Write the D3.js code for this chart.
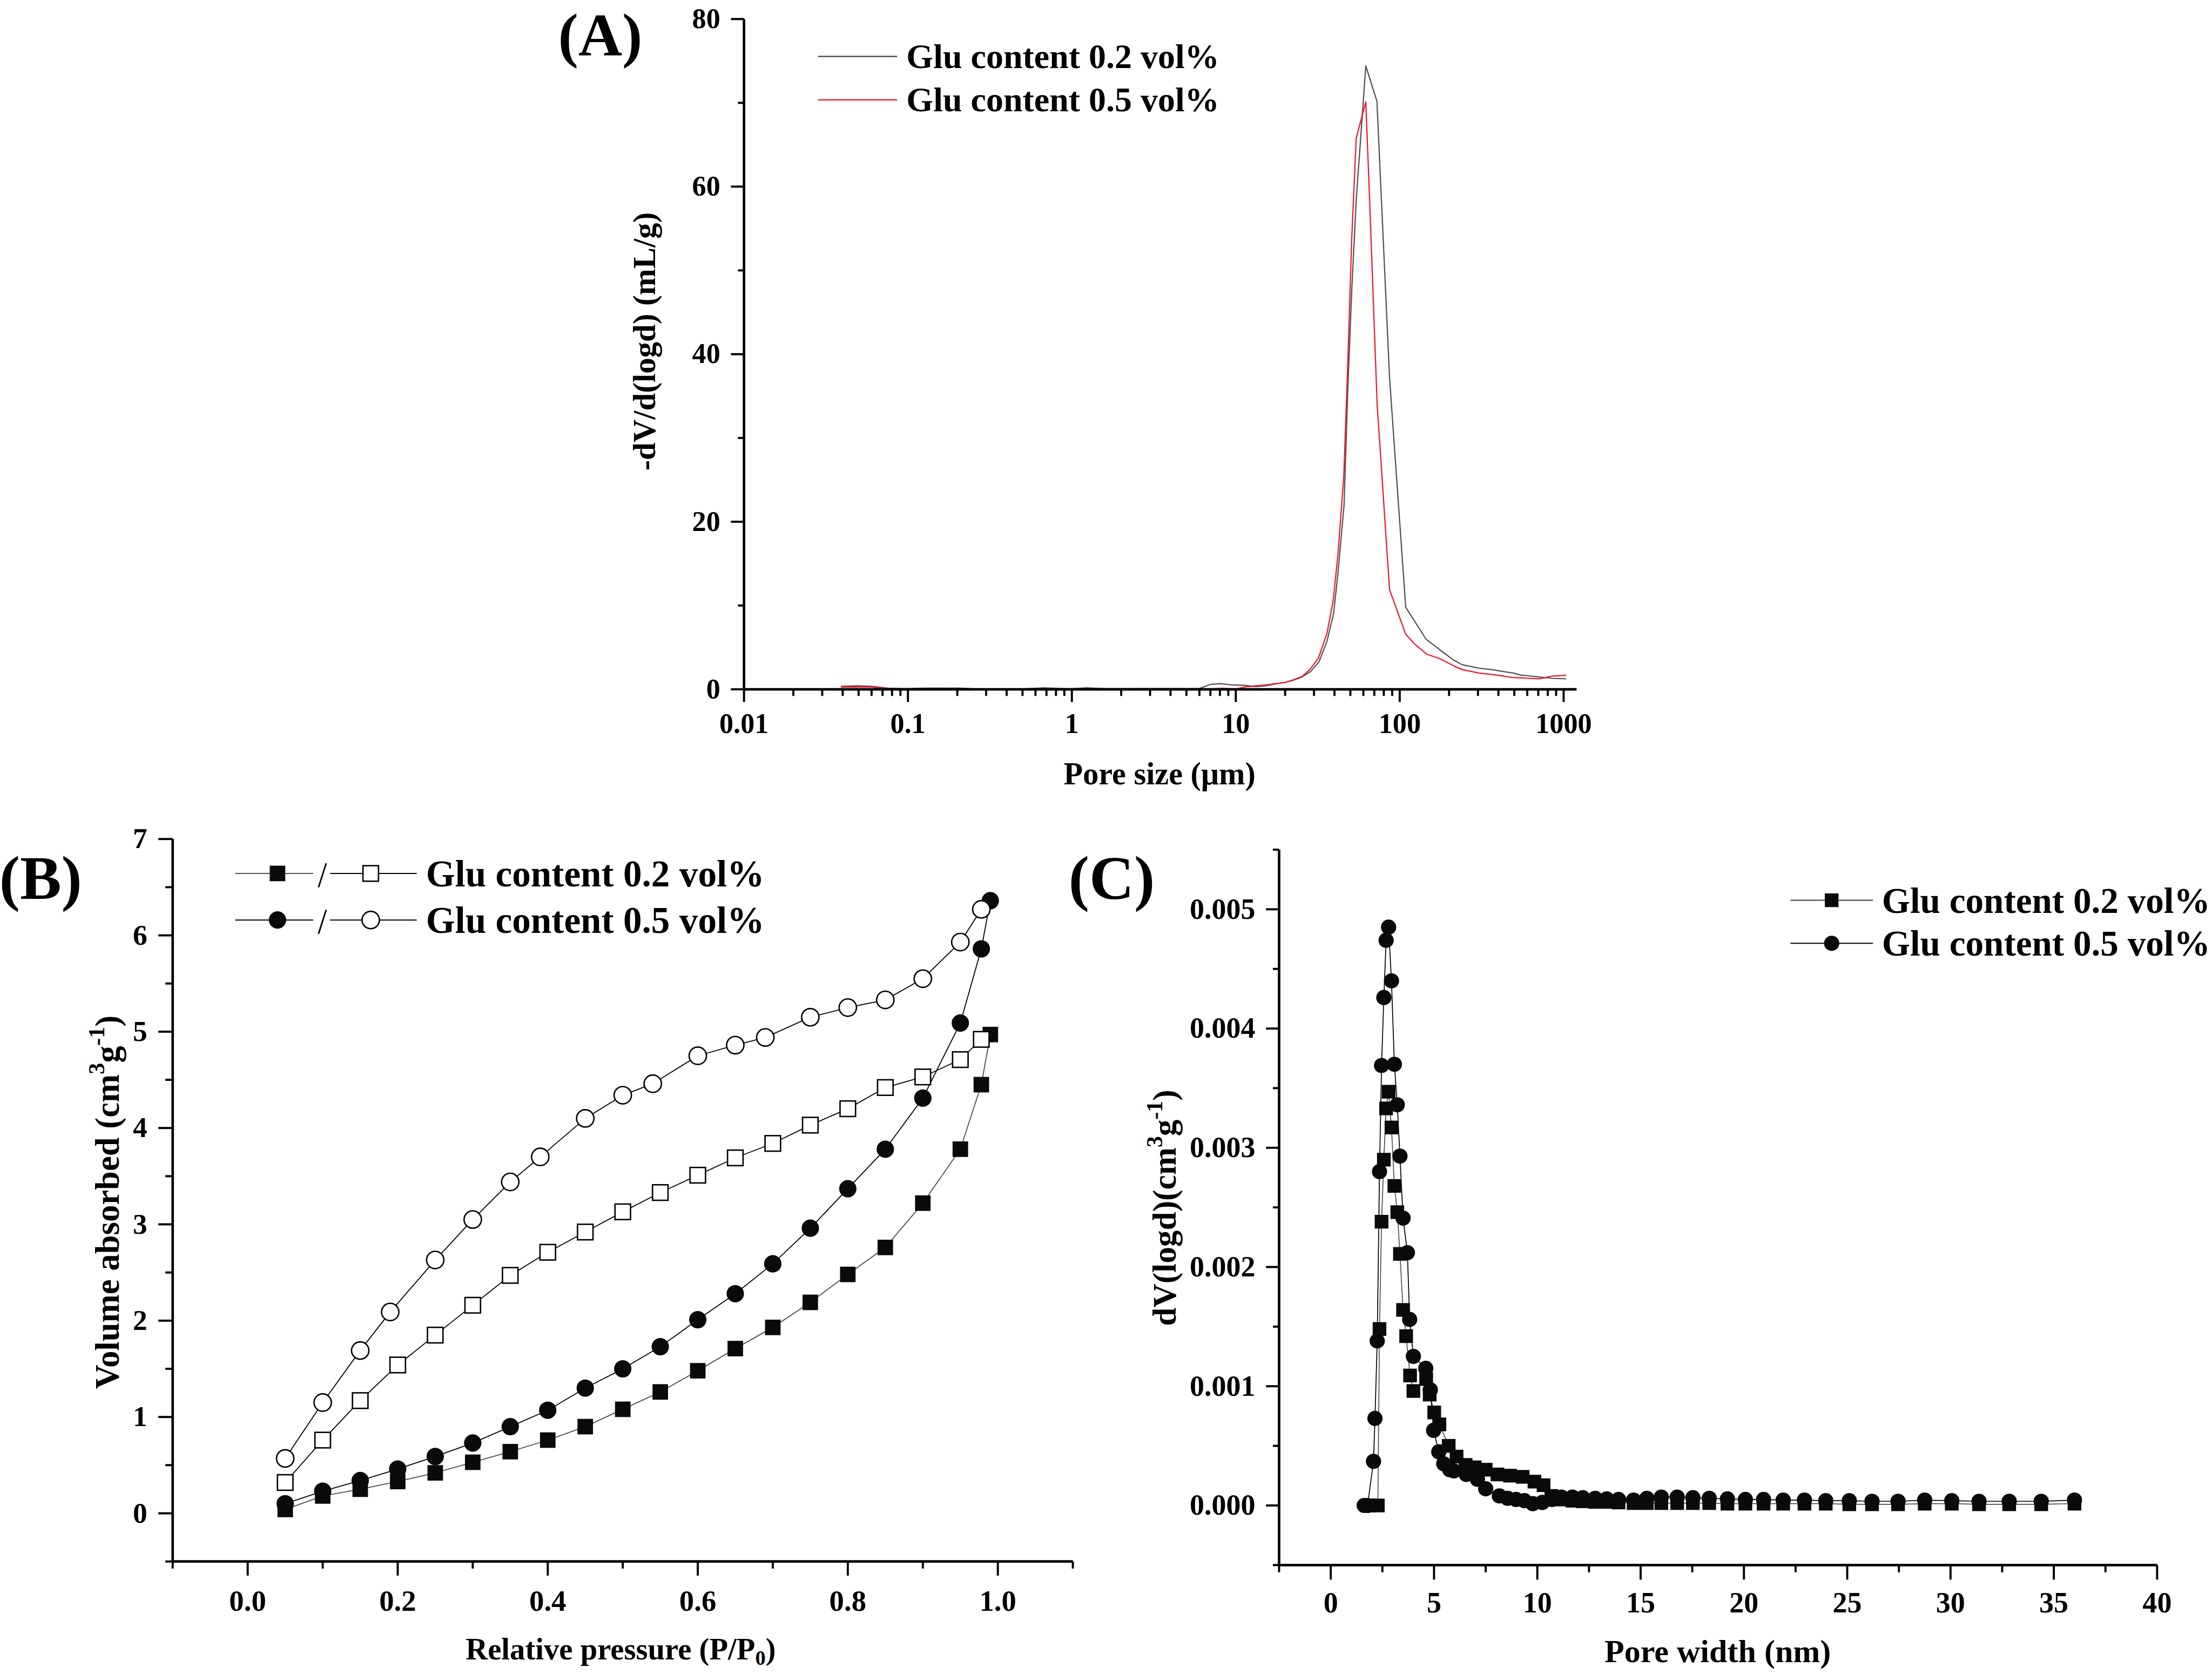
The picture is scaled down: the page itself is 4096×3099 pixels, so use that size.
<!DOCTYPE html>
<html><head><meta charset="utf-8">
<script src="https://cdn.jsdelivr.net/npm/d3@7"></script>
<style>
html,body{margin:0;padding:0;background:#fff;}
svg{display:block;background:#fff;}
text{font-family:"Liberation Serif","Times New Roman",Times,serif;font-weight:bold;fill:#000;}
</style></head><body>
<svg id="chart" width="4096" height="3099" viewBox="0 0 1568 1186.34"></svg>
<script>
// ---------------- DATA ----------------
const legendLabels = ['Glu content 0.2 vol%', 'Glu content 0.5 vol%'];

// Panel A: pore size distribution (log x, µm)
const aSizeGray = [0.039,0.049,0.06,0.075,0.097,0.125,0.21,0.25,0.53,0.68,0.96,1.24,1.6,3.7,5.96,7.06,8.0,9.5,11.3,13.3,15.2,18.0,20.2,22.6,25.3,28.7,32.2,36.0,39.5,42.1,45.8,48.2,51.0,54.3,62.1,72.6,86.7,108.8,144.5,178.7,214.9,240.7,306.3,363,496,540,850,1036];
const aDvGray   = [0.36,0.42,0.36,0.15,0.08,0.15,0.15,0.06,0.08,0.17,0.06,0.17,0.08,0.1,0.08,0.6,0.67,0.52,0.48,0.31,0.42,0.68,0.84,1.10,1.46,2.14,3.29,5.74,9.03,14.0,22.1,35.7,47.7,58.4,74.4,70.2,37.2,9.8,6.0,4.6,3.45,2.93,2.51,2.35,1.93,1.72,1.31,1.25];
const aSizeRed  = [0.039,0.058,0.075,0.097,0.175,0.246,0.68,1.9,6.2,8.3,9.9,11.3,13.3,15.2,20.2,22.6,25.3,28.3,31.9,36.0,39.3,42.1,45.6,47.9,51.0,54.3,62.1,65.3,72.8,86.7,108.8,123.7,146.6,176.3,214.9,240.7,306.3,384.6,482,706,850,1036];
const aDvRed    = [0.27,0.29,0.08,0.0,0.08,0.0,0.04,0.02,0.0,0.13,0.02,0.27,0.42,0.52,0.84,1.15,1.52,2.35,3.71,6.68,10.6,16.3,25.5,37.2,53.9,65.8,70.1,59.2,34.1,11.9,6.58,5.38,4.18,3.65,2.77,2.35,1.93,1.72,1.41,1.25,1.57,1.67];
const aXTicks = [0.01,0.1,1,10,100,1000];
const aYTicks = [0,20,40,60,80];
const aYMinor = [10,30,50,70];

// Panel B: N2 isotherms
const bPressureAds = [0.05,0.10,0.15,0.20,0.25,0.30,0.35,0.40,0.45,0.50,0.55,0.60,0.65,0.70,0.75,0.80,0.85,0.90,0.95,0.978,0.99];
const bAds02 = [0.04,0.18,0.25,0.33,0.42,0.53,0.64,0.76,0.90,1.08,1.26,1.48,1.71,1.93,2.19,2.48,2.76,3.22,3.78,4.45,4.97];
const bAds05 = [0.10,0.23,0.34,0.46,0.59,0.73,0.90,1.07,1.30,1.50,1.73,2.01,2.28,2.59,2.96,3.37,3.78,4.31,5.09,5.86,6.36];
const bPressureDes02 = [0.05,0.10,0.15,0.20,0.25,0.30,0.35,0.40,0.45,0.50,0.55,0.60,0.65,0.70,0.75,0.80,0.85,0.90,0.95,0.978];
const bDes02 = [0.32,0.76,1.17,1.54,1.85,2.16,2.47,2.71,2.92,3.13,3.33,3.51,3.69,3.84,4.03,4.20,4.42,4.53,4.71,4.92];
const bPressureDes05 = [0.05,0.10,0.15,0.19,0.25,0.30,0.35,0.39,0.45,0.50,0.54,0.60,0.65,0.69,0.75,0.80,0.85,0.90,0.95,0.978];
const bDes05 = [0.57,1.15,1.69,2.09,2.63,3.05,3.44,3.70,4.10,4.34,4.46,4.75,4.86,4.94,5.15,5.25,5.33,5.55,5.93,6.27];
const bXTicks = [0.0,0.2,0.4,0.6,0.8,1.0];
const bXMinor = [-0.1,0.1,0.3,0.5,0.7,0.9,1.1];
const bYTicks = [0,1,2,3,4,5,6,7];
const bYMinor = [-0.5,0.5,1.5,2.5,3.5,4.5,5.5,6.5];

// Panel C: BJH pore width distribution
const cWidth02 = [1.90,2.28,2.36,2.46,2.57,2.68,2.80,2.94,3.08,3.22,3.35,3.50,3.65,3.84,4.00,4.62,4.79,5.01,5.26,5.71,6.09,6.53,6.97,7.50,8.07,8.68,9.29,9.86,10.30,10.68,11.17,11.70,12.20,12.80,13.36,13.93,14.66,15.30,16.00,16.77,17.53,18.32,19.20,20.07,20.95,21.90,22.93,23.96,25.10,26.20,27.46,28.75,30.06,31.38,32.84,34.39,36.00];
const cDv02 = [0,0,0.00148,0.00238,0.00290,0.00333,0.00347,0.00317,0.00268,0.00246,0.00211,0.00164,0.00142,0.00109,0.00096,0.00106,0.00093,0.00078,0.00068,0.00050,0.00041,0.00034,0.00032,0.00030,0.00026,0.00025,0.00024,0.00020,0.00017,0.00008,0.00005,0.00004,0.000035,0.00003,0.00003,0.000025,0.00002,0.00002,0.00002,0.00002,0.00002,0.00002,0.000015,0.000015,0.000015,0.000015,0.000015,0.000015,0.00001,0.00001,0.00001,0.000015,0.000015,0.00001,0.00001,0.00001,0.000015];
const cWidth05 = [1.62,1.78,2.07,2.14,2.25,2.36,2.46,2.57,2.68,2.80,2.94,3.08,3.22,3.35,3.50,3.71,3.82,4.00,4.60,4.82,4.98,5.23,5.47,5.76,5.96,6.56,7.10,7.50,8.16,8.56,8.97,9.38,9.78,10.24,10.70,11.17,11.70,12.20,12.80,13.36,13.93,14.66,15.30,16.00,16.77,17.53,18.32,19.20,20.07,20.95,21.90,22.93,23.96,25.10,26.20,27.46,28.75,30.06,31.38,32.84,34.39,36.00];
const cDv05 = [0,0,0.00037,0.00073,0.00138,0.00280,0.00369,0.00426,0.00474,0.00485,0.00440,0.00370,0.00336,0.00293,0.00241,0.00212,0.00156,0.00125,0.00115,0.00097,0.00063,0.00045,0.00035,0.00030,0.00029,0.00026,0.00022,0.00014,0.00008,0.00006,0.00005,0.00004,0.000015,0.000025,0.00005,0.00007,0.00007,0.000065,0.00006,0.000055,0.00005,0.000045,0.00006,0.00007,0.00007,0.000065,0.00006,0.000055,0.00005,0.00005,0.000045,0.000045,0.00004,0.00004,0.000035,0.000035,0.000045,0.00004,0.000035,0.000035,0.000035,0.000045];
const cXTicks = [0,5,10,15,20,25,30,35,40];
const cXMinor = [-2.5,2.5,7.5,12.5,17.5,22.5,27.5,32.5,37.5];
const cYTicks = [0,0.001,0.002,0.003,0.004,0.005];
const cYMinor = [-0.0005,0.0005,0.0015,0.0025,0.0035,0.0045,0.0055];

// ---------------- DRAWING ----------------
const svg = d3.select('#chart');
const AXW = 1.8, TKW = 1.5;
const GRAY = '#505050', RED = '#f0142d';

function drawAxis(orient, scale, pos, major, minor, fmt, majLen, minLen, pad, fs) {
  const mk = orient === 'bottom' ? d3.axisBottom : d3.axisLeft;
  const tr = orient === 'bottom' ? `translate(0,${pos})` : `translate(${pos},0)`;
  const g = svg.append('g').attr('transform', tr);
  g.call(mk(scale).tickValues(major).tickFormat(fmt).tickSize(majLen).tickSizeOuter(0).tickPadding(pad).offset(0));
  g.attr('font-family', null).attr('font-size', null);
  g.select('.domain').attr('stroke', '#000').attr('stroke-width', AXW);
  g.selectAll('.tick line').attr('stroke', '#000').attr('stroke-width', TKW);
  g.selectAll('.tick text').attr('font-size', fs).attr('fill', '#000');
  const m = svg.append('g').attr('transform', tr);
  m.call(mk(scale).tickValues(minor).tickFormat(() => '').tickSize(minLen).tickSizeOuter(0).offset(0));
  m.select('.domain').remove();
  m.selectAll('.tick text').remove();
  m.selectAll('.tick line').attr('stroke', '#000').attr('stroke-width', TKW);
}

function rich(x, y, parts, fs, rotate, anchor) {
  const t = svg.append('text').attr('font-size', fs).attr('text-anchor', anchor || 'middle');
  if (rotate) t.attr('transform', `translate(${x},${y}) rotate(-90)`);
  else t.attr('x', x).attr('y', y);
  let cur = 0;
  parts.forEach(p => {
    const shift = p.sup ? -0.42 * fs : (p.sub ? 0.18 * fs : 0);
    const ts = t.append('tspan').text(p.t);
    if (p.sup || p.sub) ts.attr('font-size', fs * 0.68);
    if (shift - cur !== 0) ts.attr('dy', shift - cur);
    cur = shift;
  });
  return t;
}

function marker(g, shape, cx, cy, size, filled, sw) {
  if (shape === 'square') {
    g.append('rect').attr('x', cx - size / 2).attr('y', cy - size / 2).attr('width', size).attr('height', size)
      .attr('fill', filled ? '#0a0a0a' : '#fff').attr('stroke', filled ? 'none' : '#000').attr('stroke-width', sw || 1);
  } else {
    g.append('circle').attr('cx', cx).attr('cy', cy).attr('r', size / 2)
      .attr('fill', filled ? '#0a0a0a' : '#fff').attr('stroke', filled ? 'none' : '#000').attr('stroke-width', sw || 1);
  }
}

// ===== Panel A =====
const xA = d3.scaleLog().domain([0.01, 1200]).range([527.4, 1117.6]);
const yA = d3.scaleLinear().domain([0, 80]).range([488.5, 13.5]);
const aXMinor = [];
aXTicks.slice(0, -1).forEach(d => { for (let k = 2; k <= 9; k++) aXMinor.push(d * k); });

const lineA = d3.line().x(d => xA(d[0])).y(d => yA(d[1]));
svg.append('path').datum(d3.zip(aSizeGray, aDvGray)).attr('d', lineA).attr('fill', 'none').attr('stroke', GRAY).attr('stroke-width', 0.85).attr('stroke-linejoin', 'round');
svg.append('path').datum(d3.zip(aSizeRed, aDvRed)).attr('d', lineA).attr('fill', 'none').attr('stroke', RED).attr('stroke-width', 0.85).attr('stroke-linejoin', 'round');

drawAxis('bottom', xA, 488.5, aXTicks, aXMinor, d => String(d), 9, 4.7, 7.9, 20);
drawAxis('left', yA, 527.4, aYTicks, aYMinor, d => String(d), 9.3, 4.3, 7.5, 20);

rich(822, 556, [{t: 'Pore size (μm)'}], 22.3, false);
rich(464.5, 242, [{t: '-dV/d(logd) (mL/g)'}], 22.5, true);
svg.append('text').attr('x', 425.5).attr('y', 39.5).attr('text-anchor', 'middle').attr('font-size', 43).text('(A)');

[[GRAY, 40], [RED, 70.8]].forEach((c, i) => {
  svg.append('line').attr('x1', 580).attr('x2', 636).attr('y1', c[1]).attr('y2', c[1]).attr('stroke', c[0]).attr('stroke-width', 0.9);
  svg.append('text').attr('x', 642.5).attr('y', c[1] + 8.1).attr('font-size', 24.5).text(legendLabels[i]);
});

// ===== Panel B =====
const xB = d3.scaleLinear().domain([-0.1, 1.1]).range([122.4, 760.5]);
const yB = d3.scaleLinear().domain([-0.5, 7]).range([1106.6, 594.6]);
const lineB = d3.line().x(d => xB(d[0])).y(d => yB(d[1]));
const bSeries = [
  {x: bPressureAds, y: bAds02, shape: 'square', filled: true, color: GRAY},
  {x: bPressureDes02, y: bDes02, shape: 'square', filled: false, color: '#000'},
  {x: bPressureAds, y: bAds05, shape: 'circle', filled: true, color: '#000'},
  {x: bPressureDes05, y: bDes05, shape: 'circle', filled: false, color: '#000'}
];
bSeries.forEach(s => {
  svg.append('path').datum(d3.zip(s.x, s.y)).attr('d', lineB).attr('fill', 'none').attr('stroke', s.color).attr('stroke-width', 0.7);
});
bSeries.forEach(s => {
  const g = svg.append('g');
  d3.zip(s.x, s.y).forEach(d => marker(g, s.shape, xB(d[0]), yB(d[1]), s.shape === 'square' ? 11 : 12.3, s.filled, 1));
});
drawAxis('bottom', xB, 1106.6, bXTicks, bXMinor, d3.format('.1f'), 10, 5, 9.9, 21);
drawAxis('left', yB, 122.4, bYTicks, bYMinor, d3.format('d'), 10.2, 5.2, 7.8, 20.5);

rich(440, 1176, [{t: 'Relative pressure (P/P'}, {t: '0', sub: true}, {t: ')'}], 21.7, false);
rich(84.1, 852, [{t: 'Volume absorbed (cm'}, {t: '3', sup: true}, {t: 'g'}, {t: '-1', sup: true}, {t: ')'}], 24, true);
svg.append('text').attr('x', 28.8).attr('y', 637).attr('text-anchor', 'middle').attr('font-size', 44).text('(B)');

// legend B
[[619, GRAY, 'square'], [652, '#000', 'circle']].forEach((r, i) => {
  const y = r[0];
  const g = svg.append('g');
  g.append('line').attr('x1', 166.7).attr('x2', 222).attr('y1', y).attr('y2', y).attr('stroke', r[1]).attr('stroke-width', 0.8);
  g.append('line').attr('x1', 234).attr('x2', 295.4).attr('y1', y).attr('y2', y).attr('stroke', '#000').attr('stroke-width', 0.8);
  g.append('line').attr('x1', 225.8).attr('y1', y + 9.8).attr('x2', 231.2).attr('y2', y - 7.2).attr('stroke', '#000').attr('stroke-width', 1.1);
  marker(g, r[2], 196.7, y, r[2] === 'square' ? 11 : 12.3, true, 1);
  marker(g, r[2], 262.8, y, r[2] === 'square' ? 11 : 12.3, false, 1);
  svg.append('text').attr('x', 301.9).attr('y', y + 9.2).attr('font-size', 26.5).text(legendLabels[i]);
});

// ===== Panel C =====
const xC = d3.scaleLinear().domain([-2.5, 40]).range([906.7, 1529.1]);
const yC = d3.scaleLinear().domain([-0.0005, 0.0055]).range([1109.15, 602.15]);
const lineC = d3.line().x(d => xC(d[0])).y(d => yC(d[1]));
const cSeries = [
  {x: cWidth02, y: cDv02, shape: 'square', color: GRAY, size: 9.7},
  {x: cWidth05, y: cDv05, shape: 'circle', color: '#000', size: 10.8}
];
cSeries.forEach(s => {
  svg.append('path').datum(d3.zip(s.x, s.y)).attr('d', lineC).attr('fill', 'none').attr('stroke', s.color).attr('stroke-width', 0.65);
});
cSeries.forEach(s => {
  const g = svg.append('g');
  d3.zip(s.x, s.y).forEach(d => marker(g, s.shape, xC(d[0]), yC(d[1]), s.size, true, 1));
});
drawAxis('bottom', xC, 1109.15, cXTicks, cXMinor, d3.format('d'), 10.3, 5.1, 8.6, 20.7);
drawAxis('left', yC, 906.7, cYTicks, cYMinor, d3.format('.3f'), 9.3, 4.4, 7.5, 20.7);

rich(1217.6, 1178, [{t: 'Pore width (nm)'}], 23, false);
rich(833.5, 856, [{t: 'dV(logd)(cm'}, {t: '3', sup: true}, {t: 'g'}, {t: '-1', sup: true}, {t: ')'}], 23.5, true);
svg.append('text').attr('x', 788).attr('y', 637).attr('text-anchor', 'middle').attr('font-size', 44).text('(C)');

// legend C
[[638, GRAY, 'square', 9.7], [668.5, '#000', 'circle', 10.8]].forEach((r, i) => {
  const g = svg.append('g');
  g.append('line').attr('x1', 1269.2).attr('x2', 1327.7).attr('y1', r[0]).attr('y2', r[0]).attr('stroke', r[1]).attr('stroke-width', 0.8);
  marker(g, r[2], 1298.4, r[0], r[3], true, 1);
  svg.append('text').attr('x', 1334).attr('y', r[0] + 8.8).attr('font-size', 25.7).text(legendLabels[i]);
});
</script>
</body></html>
